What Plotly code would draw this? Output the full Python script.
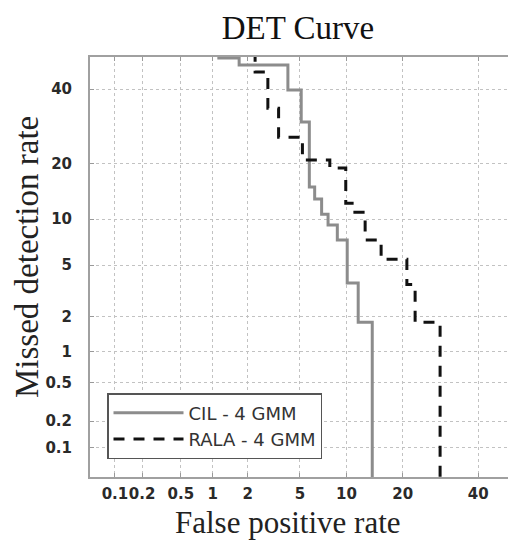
import plotly.graph_objects as go
from statistics import NormalDist

# ---- data (percent) ----
tick_vals_pct = [0.1, 0.2, 0.5, 1, 2, 5, 10, 20, 40]
tick_labels = ["0.1", "0.2", "0.5", "1", "2", "5", "10", "20", "40"]

# CIL - 4 GMM : staircase corner points (false positive %, missed detection %)
cil_fp = [1.1, 1.7, 4.1, 5.1, 5.8, 6.3, 7.0, 7.7, 8.8, 10.1, 11.7, 14.0]
cil_miss = [49.7, 47.5, 39.7, 30.4, 15.2, 13.1, 10.7, 9.2, 7.4, 3.7, 1.8, 0.01]

# RALA - 4 GMM
rala_fp = [2.3, 2.9, 3.5, 5.2, 7.9, 9.9, 11.2, 12.8, 15.6, 20.9, 22.8, 29.1, 29.1]
rala_miss = [52.0, 45.3, 34.3, 26.3, 20.8, 19.0, 12.4, 11.0, 7.4, 5.5, 3.6, 1.8, 0.01]

nd = NormalDist()


def probit(values):
    return [nd.inv_cdf(v / 100.0) for v in values]


tick_pos = probit(tick_vals_pct)

fig = go.Figure()
fig.add_trace(go.Scatter(
    x=probit(cil_fp), y=probit(cil_miss), mode="lines", name="CIL - 4 GMM",
    line=dict(color="#8c8c8c", width=3, shape="hv"),
))
fig.add_trace(go.Scatter(
    x=probit(rala_fp), y=probit(rala_miss), mode="lines", name="RALA - 4 GMM",
    line=dict(color="#111111", width=3, shape="vh", dash="11px,9px"),
))

W, H = 508, 540
L, R, T, B = 90, 0, 57, 63

axis_common = dict(
    tickmode="array", tickvals=tick_pos, ticktext=tick_labels,
    showgrid=True, gridcolor="#c2c2c2", griddash="dot", gridwidth=1,
    zeroline=False, showline=True, linecolor="#a0a0a0", linewidth=2,
    ticks="inside", ticklen=4, tickcolor="#999999", tickwidth=1,
    tickfont=dict(family="DejaVu Sans", size=15, color="#2a2a2a", weight="bold"),
    tickangle=0,
)

fig.update_xaxes(range=[-3.285, -0.02], mirror="ticks", ticklabelstandoff=2, **axis_common)
fig.update_yaxes(range=[-3.32, 0.0], mirror=False, ticklabelstandoff=13, **axis_common)


def px_to_paper_x(px):
    return (px - L) / (W - L - R)


def px_to_paper_y(py):
    return (H - B - py) / (H - T - B)


fig.update_layout(
    width=W, height=H,
    margin=dict(l=L, r=R, t=T, b=B),
    paper_bgcolor="white", plot_bgcolor="white",
    title=dict(text="DET Curve", x=298 / W, xanchor="center", y=1 - 27 / H, yanchor="middle",
               font=dict(family="Liberation Serif", size=33, color="#111111")),
    showlegend=True,
    legend=dict(
        x=px_to_paper_x(107), y=px_to_paper_y(393), xanchor="left", yanchor="top",
        bgcolor="white", bordercolor="#555555", borderwidth=1.5,
        font=dict(family="DejaVu Sans", size=18, color="#333333"),
        itemwidth=70,
    ),
    annotations=[
        dict(text="False positive rate", xref="paper", yref="paper",
             x=px_to_paper_x(288), y=px_to_paper_y(522), xanchor="center", yanchor="middle",
             showarrow=False, font=dict(family="Liberation Serif", size=31, color="#222222")),
        dict(text="Missed detection rate", xref="paper", yref="paper",
             x=px_to_paper_x(27), y=px_to_paper_y(257), xanchor="center", yanchor="middle",
             textangle=-90, showarrow=False,
             font=dict(family="Liberation Serif", size=33, color="#222222")),
    ],
)

fig.write_html("out.html")
